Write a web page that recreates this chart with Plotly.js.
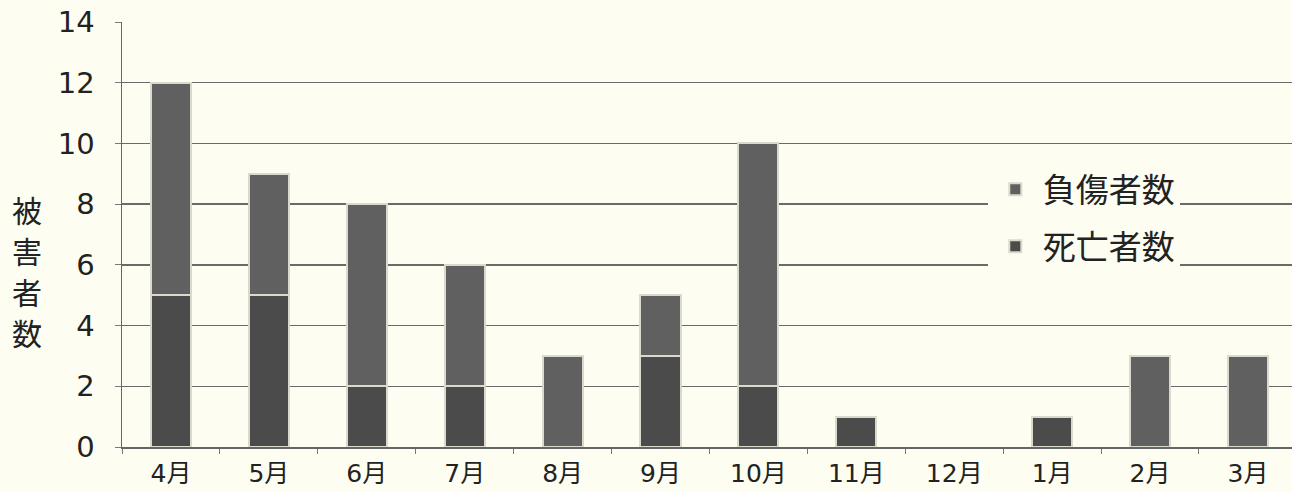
<!DOCTYPE html>
<html><head><meta charset="utf-8">
<script src="https://cdn.plot.ly/plotly-3.0.1.min.js"></script>
<style>html,body{margin:0;padding:0;background:#fdfdf2;}</style>
</head><body>
<div id="chart" style="width:1292px;height:492px;"></div>
<script>
const months = ['4月','5月','6月','7月','8月','9月','10月','11月','12月','1月','2月','3月'];
const deaths = [5,5,2,2,0,3,2,1,0,1,0,0];
const injured = [7,4,6,4,3,2,8,0,0,0,3,3];
const yTicks = [0,2,4,6,8,10,12,14];
const yTitleChars = ['被','害','者','数'];

const cjk = "'Noto Sans CJK JP', 'Noto Sans', sans-serif";
const num = "'DejaVu Sans', 'Noto Sans CJK JP', sans-serif";
const nz = a => a.map(v => v === 0 ? null : v);
const traces = [
  {type:'bar', name:'死亡者数', x:months, y:nz(deaths), legendgroup:'d', legendrank:2,
   marker:{color:'#4b4b4b', line:{color:'#d9d9cc', width:2}}},
  {type:'bar', name:'負傷者数', x:months, y:nz(injured), legendgroup:'i', legendrank:1,
   marker:{color:'#606060', line:{color:'#d9d9cc', width:2}}}
];
const titleAnn = yTitleChars.map((c, i) => ({
  text:c, xref:'paper', yref:'paper', x:-0.0812, y:(447 - (209 + 41*i)) / 425,
  xanchor:'center', yanchor:'middle', showarrow:false,
  font:{size:30, family:cjk, color:'#222'}
}));
const layout = {
  width:1292, height:492,
  paper_bgcolor:'#fdfdf2', plot_bgcolor:'#fdfdf2',
  margin:{l:122, r:0, t:22, b:45},
  barmode:'stack', bargap:0.59,
  font:{family:cjk, color:'#222'},
  showlegend:true,
  legend:{x:0.74, y:0.672, xanchor:'left', yanchor:'top', traceorder:'grouped',
          bgcolor:'#fdfdf2', font:{size:33, family:cjk, color:'#222'},
          itemwidth:45, tracegroupgap:11},
  xaxis:{type:'category', range:[-0.5, 11.45], showgrid:false,
         ticks:'outside', tickson:'boundaries', ticklen:5, tickcolor:'#777',
         showline:true, linecolor:'#666', linewidth:1.5, ticklabelstandoff:3,
         tickfont:{size:25, family:num, color:'#222'}, fixedrange:true},
  yaxis:{range:[0,14], tickvals:yTicks, ticktext:yTicks.map(String),
         showgrid:true, gridcolor:'#6a6a6a', gridwidth:1.3,
         zeroline:false, showline:true, linecolor:'#666', linewidth:1.5,
         ticks:'outside', ticklen:6, tickcolor:'#777', ticklabelstandoff:14,
         ticklabeloverflow:'allow',
         tickfont:{size:29, family:num, color:'#222'}, fixedrange:true},
  annotations:titleAnn
};
Plotly.newPlot('chart', traces, layout, {displayModeBar:false, staticPlot:true});
</script>
</body></html>
